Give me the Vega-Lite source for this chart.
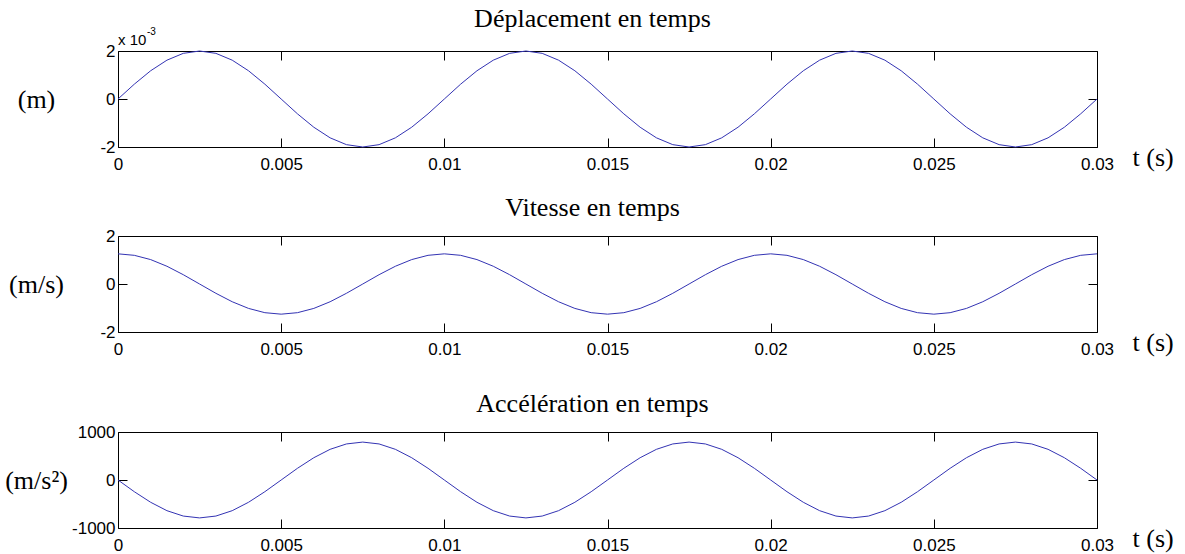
{
  "$schema": "https://vega.github.io/schema/vega-lite/v6.json",
  "background": "white",
  "padding": {"left": 4, "top": 5, "right": 0, "bottom": 0},
  "datasets": {
    "sig": [
      {"t":0,"d":0,"v":1.257,"a":0},
      {"t":0.0005,"d":0.000618,"v":1.195,"a":-244},
      {"t":0.001,"d":0.001176,"v":1.017,"a":-464},
      {"t":0.0015,"d":0.001618,"v":0.739,"a":-639},
      {"t":0.002,"d":0.001902,"v":0.388,"a":-751},
      {"t":0.0025,"d":0.002,"v":0,"a":-790},
      {"t":0.003,"d":0.001902,"v":-0.388,"a":-751},
      {"t":0.0035,"d":0.001618,"v":-0.739,"a":-639},
      {"t":0.004,"d":0.001176,"v":-1.017,"a":-464},
      {"t":0.0045,"d":0.000618,"v":-1.195,"a":-244},
      {"t":0.005,"d":0,"v":-1.257,"a":0},
      {"t":0.0055,"d":-0.000618,"v":-1.195,"a":244},
      {"t":0.006,"d":-0.001176,"v":-1.017,"a":464},
      {"t":0.0065,"d":-0.001618,"v":-0.739,"a":639},
      {"t":0.007,"d":-0.001902,"v":-0.388,"a":751},
      {"t":0.0075,"d":-0.002,"v":0,"a":790},
      {"t":0.008,"d":-0.001902,"v":0.388,"a":751},
      {"t":0.0085,"d":-0.001618,"v":0.739,"a":639},
      {"t":0.009,"d":-0.001176,"v":1.017,"a":464},
      {"t":0.0095,"d":-0.000618,"v":1.195,"a":244},
      {"t":0.01,"d":0,"v":1.257,"a":0},
      {"t":0.0105,"d":0.000618,"v":1.195,"a":-244},
      {"t":0.011,"d":0.001176,"v":1.017,"a":-464},
      {"t":0.0115,"d":0.001618,"v":0.739,"a":-639},
      {"t":0.012,"d":0.001902,"v":0.388,"a":-751},
      {"t":0.0125,"d":0.002,"v":0,"a":-790},
      {"t":0.013,"d":0.001902,"v":-0.388,"a":-751},
      {"t":0.0135,"d":0.001618,"v":-0.739,"a":-639},
      {"t":0.014,"d":0.001176,"v":-1.017,"a":-464},
      {"t":0.0145,"d":0.000618,"v":-1.195,"a":-244},
      {"t":0.015,"d":0,"v":-1.257,"a":0},
      {"t":0.0155,"d":-0.000618,"v":-1.195,"a":244},
      {"t":0.016,"d":-0.001176,"v":-1.017,"a":464},
      {"t":0.0165,"d":-0.001618,"v":-0.739,"a":639},
      {"t":0.017,"d":-0.001902,"v":-0.388,"a":751},
      {"t":0.0175,"d":-0.002,"v":0,"a":790},
      {"t":0.018,"d":-0.001902,"v":0.388,"a":751},
      {"t":0.0185,"d":-0.001618,"v":0.739,"a":639},
      {"t":0.019,"d":-0.001176,"v":1.017,"a":464},
      {"t":0.0195,"d":-0.000618,"v":1.195,"a":244},
      {"t":0.02,"d":0,"v":1.257,"a":0},
      {"t":0.0205,"d":0.000618,"v":1.195,"a":-244},
      {"t":0.021,"d":0.001176,"v":1.017,"a":-464},
      {"t":0.0215,"d":0.001618,"v":0.739,"a":-639},
      {"t":0.022,"d":0.001902,"v":0.388,"a":-751},
      {"t":0.0225,"d":0.002,"v":0,"a":-790},
      {"t":0.023,"d":0.001902,"v":-0.388,"a":-751},
      {"t":0.0235,"d":0.001618,"v":-0.739,"a":-639},
      {"t":0.024,"d":0.001176,"v":-1.017,"a":-464},
      {"t":0.0245,"d":0.000618,"v":-1.195,"a":-244},
      {"t":0.025,"d":0,"v":-1.257,"a":0},
      {"t":0.0255,"d":-0.000618,"v":-1.195,"a":244},
      {"t":0.026,"d":-0.001176,"v":-1.017,"a":464},
      {"t":0.0265,"d":-0.001618,"v":-0.739,"a":639},
      {"t":0.027,"d":-0.001902,"v":-0.388,"a":751},
      {"t":0.0275,"d":-0.002,"v":0,"a":790},
      {"t":0.028,"d":-0.001902,"v":0.388,"a":751},
      {"t":0.0285,"d":-0.001618,"v":0.739,"a":639},
      {"t":0.029,"d":-0.001176,"v":1.017,"a":464},
      {"t":0.0295,"d":-0.000618,"v":1.195,"a":244},
      {"t":0.03,"d":0,"v":1.257,"a":0}
    ]
  },
  "spacing": 32,
  "vconcat": [
    {
      "spacing": 21,
      "vconcat": [
        {
          "width": 979, "height": 96,
          "data": {"name": "sig"},
          "title": {"text": "Déplacement en temps", "frame": "group", "offset": -26, "baseline": "alphabetic", "dx": -15},
          "resolve": {"axis": {"x": "independent", "y": "independent"}},
          "layer": [
            {
              "mark": {"type": "line", "color": "#3333b3", "strokeWidth": 1},
              "encoding": {
                "x": {"field": "t", "type": "quantitative", "scale": {"domain": [0, 0.03], "nice": false, "zero": false},
                      "axis": {"orient": "bottom", "values": [0,0.005,0.01,0.015,0.02,0.025,0.03], "labelExpr": "datum.value + ''", "labelPadding": 18,
                               "title": "t (s)", "titleX": 1014, "titleY": 18, "titleAlign": "left", "titleBaseline": "alphabetic"}},
                "y": {"field": "d", "type": "quantitative", "scale": {"domain": [-0.002, 0.002], "nice": false, "zero": false},
                      "axis": {"orient": "left", "values": [-0.002, 0, 0.002], "labelExpr": "round(datum.value*1000) + ''", "labelPadding": 12,
                               "title": "(m)", "titleX": -82, "titleY": 48, "titleAlign": "center", "titleBaseline": "middle", "titleAngle": 0}}
              }
            },
            {
              "mark": {"type": "line", "strokeOpacity": 0},
              "encoding": {
                "x": {"field": "t", "type": "quantitative", "scale": {"domain": [0, 0.03], "nice": false, "zero": false},
                      "axis": {"orient": "top", "values": [0,0.005,0.01,0.015,0.02,0.025,0.03], "labels": false, "title": null}},
                "y": {"field": "d", "type": "quantitative", "scale": {"domain": [-0.002, 0.002], "nice": false, "zero": false},
                      "axis": {"orient": "right", "values": [-0.002, 0, 0.002], "labels": false, "title": null}}
              }
            },
            {
              "data": {"values": [{"lab": "x 10"}]},
              "mark": {"type": "text", "align": "left", "baseline": "alphabetic", "dx": 0, "dy": -6, "font": "Liberation Sans", "fontSize": 15, "color": "black"},
              "encoding": {
                "x": {"datum": 0, "type": "quantitative", "scale": {"domain": [0, 0.03], "nice": false, "zero": false}, "axis": null},
                "y": {"datum": 0.002, "type": "quantitative", "scale": {"domain": [-0.002, 0.002], "nice": false, "zero": false}, "axis": null},
                "text": {"field": "lab"}
              }
            },
            {
              "data": {"values": [{"lab": "-3"}]},
              "mark": {"type": "text", "align": "left", "baseline": "alphabetic", "dx": 29, "dy": -16, "font": "Liberation Sans", "fontSize": 10, "color": "black"},
              "encoding": {
                "x": {"datum": 0, "type": "quantitative", "scale": {"domain": [0, 0.03], "nice": false, "zero": false}, "axis": null},
                "y": {"datum": 0.002, "type": "quantitative", "scale": {"domain": [-0.002, 0.002], "nice": false, "zero": false}, "axis": null},
                "text": {"field": "lab"}
              }
            }
          ]
        },
        {
          "width": 979, "height": 96,
          "data": {"name": "sig"},
          "title": {"text": "Vitesse en temps", "frame": "group", "offset": -15, "baseline": "alphabetic", "dx": -15},
          "resolve": {"axis": {"x": "independent", "y": "independent"}},
          "layer": [
            {
              "mark": {"type": "line", "color": "#3333b3", "strokeWidth": 1},
              "encoding": {
                "x": {"field": "t", "type": "quantitative", "scale": {"domain": [0, 0.03], "nice": false, "zero": false},
                      "axis": {"orient": "bottom", "values": [0,0.005,0.01,0.015,0.02,0.025,0.03], "labelExpr": "datum.value + ''", "labelPadding": 18,
                               "title": "t (s)", "titleX": 1014, "titleY": 18, "titleAlign": "left", "titleBaseline": "alphabetic"}},
                "y": {"field": "v", "type": "quantitative", "scale": {"domain": [-2, 2], "nice": false, "zero": false},
                      "axis": {"orient": "left", "values": [-2, 0, 2], "labelExpr": "datum.value + ''", "labelPadding": 12,
                               "title": "(m/s)", "titleX": -82, "titleY": 48, "titleAlign": "center", "titleBaseline": "middle", "titleAngle": 0}}
              }
            },
            {
              "mark": {"type": "line", "strokeOpacity": 0},
              "encoding": {
                "x": {"field": "t", "type": "quantitative", "scale": {"domain": [0, 0.03], "nice": false, "zero": false},
                      "axis": {"orient": "top", "values": [0,0.005,0.01,0.015,0.02,0.025,0.03], "labels": false, "title": null}},
                "y": {"field": "v", "type": "quantitative", "scale": {"domain": [-2, 2], "nice": false, "zero": false},
                      "axis": {"orient": "right", "values": [-2, 0, 2], "labels": false, "title": null}}
              }
            }
          ]
        }
      ]
    },
    {
      "width": 979, "height": 96,
      "data": {"name": "sig"},
      "title": {"text": "Accélération en temps", "frame": "group", "offset": -15, "baseline": "alphabetic", "dx": -15},
      "resolve": {"axis": {"x": "independent", "y": "independent"}},
      "layer": [
        {
          "mark": {"type": "line", "color": "#3333b3", "strokeWidth": 1},
          "encoding": {
            "x": {"field": "t", "type": "quantitative", "scale": {"domain": [0, 0.03], "nice": false, "zero": false},
                  "axis": {"orient": "bottom", "values": [0,0.005,0.01,0.015,0.02,0.025,0.03], "labelExpr": "datum.value + ''", "labelPadding": 18,
                           "title": "t (s)", "titleX": 1014, "titleY": 18, "titleAlign": "left", "titleBaseline": "alphabetic"}},
            "y": {"field": "a", "type": "quantitative", "scale": {"domain": [-1000, 1000], "nice": false, "zero": false},
                  "axis": {"orient": "left", "values": [-1000, 0, 1000], "labelExpr": "datum.value + ''", "labelPadding": 12,
                           "title": "(m/s²)", "titleX": -82, "titleY": 48, "titleAlign": "center", "titleBaseline": "middle", "titleAngle": 0}}
          }
        },
        {
          "mark": {"type": "line", "strokeOpacity": 0},
          "encoding": {
            "x": {"field": "t", "type": "quantitative", "scale": {"domain": [0, 0.03], "nice": false, "zero": false},
                  "axis": {"orient": "top", "values": [0,0.005,0.01,0.015,0.02,0.025,0.03], "labels": false, "title": null}},
            "y": {"field": "a", "type": "quantitative", "scale": {"domain": [-1000, 1000], "nice": false, "zero": false},
                  "axis": {"orient": "right", "values": [-1000, 0, 1000], "labels": false, "title": null}}
          }
        }
      ]
    }
  ],
  "config": {
    "view": {"stroke": "black", "strokeWidth": 1},
    "title": {"font": "Liberation Serif", "fontSize": 26, "fontWeight": "normal", "color": "black"},
    "axis": {
      "grid": false, "domain": false, "ticks": true, "tickSize": -9, "tickColor": "black", "tickWidth": 1,
      "labelFont": "Liberation Sans", "labelFontSize": 17, "labelColor": "black",
      "labelFlush": false, "labelOverlap": false, "labelBound": false,
      "titleFont": "Liberation Serif", "titleFontSize": 26, "titleFontWeight": "normal", "titleColor": "black"
    }
  }
}
